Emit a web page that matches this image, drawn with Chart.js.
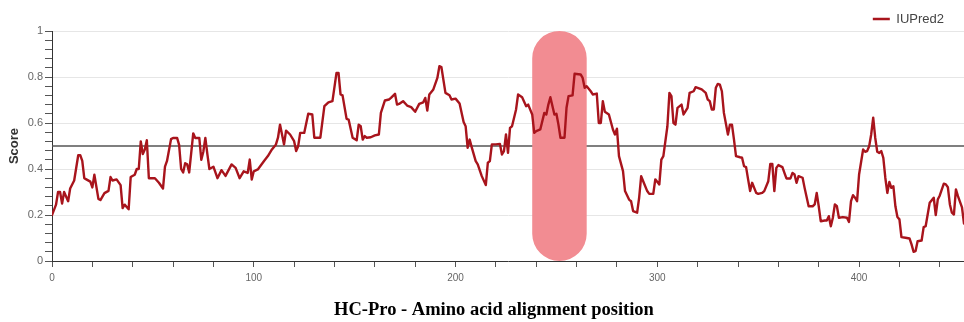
<!DOCTYPE html>
<html>
<head>
<meta charset="utf-8">
<title>HC-Pro IUPred2</title>
<script src="https://cdn.jsdelivr.net/npm/chart.js@4.4.1/dist/chart.umd.min.js"></script>
<style>
  body { margin: 0; background: #fff; }
  #wrap { width: 964px; height: 322px; }
</style>
</head>
<body>
<div id="wrap"><canvas id="disorderChart" width="964" height="322"></canvas></div>
<script>
// Alignment positions and IUPred2 scores
var positions = [
  0, 2, 3, 4, 5, 6, 8, 9, 11, 13, 14, 15, 16, 17, 19, 20, 21, 23, 24, 26, 28, 29, 30, 32, 34, 35, 36, 38, 39,
  41, 42, 43, 44, 45, 46, 47, 48, 49, 51, 53, 55, 56, 57, 59, 60, 62, 63, 64, 65, 66, 67, 68, 70, 71, 73, 74,
  75, 76, 77, 78, 80, 82, 84, 86, 89, 91, 93, 95, 97, 98, 99, 100, 102, 105, 107, 109, 111, 112, 113, 114,
  115, 116, 118, 120, 121, 122, 123, 125, 127, 129, 130, 133, 135, 137, 139, 141, 142, 143, 144, 146, 147,
  149, 151, 152, 153, 154, 155, 156, 158, 160, 162, 163, 165, 167, 168, 170, 171, 172, 174, 176, 178, 180,
  182, 184, 185, 186, 187, 189, 191, 192, 193, 195, 197, 198, 200, 202, 204, 205, 206, 207, 208, 210, 211,
  213, 215, 216, 217, 218, 220, 222, 223, 224, 225, 226, 227, 228, 230, 231, 233, 235, 236, 238, 239, 240,
  242, 244, 245, 246, 247, 249, 250, 251, 252, 254, 255, 256, 258, 259, 262, 263, 264, 265, 267, 268, 270,
  271, 272, 273, 274, 276, 278, 279, 280, 281, 283, 284, 286, 287, 288, 290, 291, 292, 293, 295, 296, 298,
  299, 301, 302, 303, 305, 306, 307, 308, 309, 310, 312, 313, 315, 316, 318, 319, 320, 322, 324, 325, 326,
  327, 328, 329, 330, 331, 332, 333, 335, 336, 337, 338, 339, 341, 342, 343, 344, 345, 346, 347, 349, 350,
  352, 353, 355, 356, 357, 358, 359, 360, 362, 363, 364, 366, 367, 368, 369, 370, 372, 373, 375, 377, 378,
  379, 380, 381, 383, 384, 385, 386, 387, 388, 389, 390, 392, 394, 395, 396, 397, 398, 399, 400, 402, 403,
  404, 405, 406, 407, 408, 409, 410, 411, 412, 413, 414, 415, 416, 417, 418, 419, 420, 421, 423, 425, 426,
  427, 428, 429, 431, 432, 433, 435, 436, 437, 438, 439, 440, 442, 443, 444, 445, 446, 447, 448, 449, 451, 452
];
var scores = [
  0.20, 0.245, 0.30, 0.30, 0.25, 0.30, 0.26, 0.315, 0.35, 0.46, 0.46, 0.435, 0.36, 0.355, 0.345, 0.32, 0.375,
  0.27, 0.265, 0.295, 0.305, 0.365, 0.35, 0.355, 0.33, 0.23, 0.245, 0.225, 0.365,
  0.375, 0.40, 0.40, 0.52, 0.465, 0.485, 0.525, 0.36, 0.36, 0.36, 0.34, 0.315, 0.41, 0.435, 0.53, 0.535, 0.535,
  0.505, 0.40, 0.385, 0.425, 0.42, 0.385, 0.555, 0.535, 0.535, 0.44,
  0.475, 0.535, 0.465, 0.40, 0.41, 0.36, 0.395, 0.37, 0.42, 0.405, 0.36, 0.39, 0.383, 0.441, 0.354, 0.39, 0.398,
  0.434, 0.456, 0.485, 0.507, 0.536, 0.593, 0.55,
  0.507, 0.567, 0.55, 0.521, 0.478, 0.499, 0.557, 0.557, 0.64, 0.637, 0.536, 0.536, 0.673, 0.69, 0.695, 0.818,
  0.818, 0.724, 0.72, 0.618, 0.615,
  0.536, 0.525, 0.593, 0.586, 0.528, 0.543, 0.536, 0.538, 0.546, 0.55, 0.644, 0.698, 0.702, 0.709, 0.727, 0.68,
  0.683, 0.695, 0.676, 0.669, 0.649,
  0.683, 0.69, 0.709, 0.654, 0.724, 0.746, 0.796, 0.847, 0.843, 0.731, 0.721, 0.702, 0.706, 0.685, 0.604, 0.586,
  0.492, 0.528, 0.495, 0.434, 0.42,
  0.369, 0.33, 0.427, 0.434, 0.507, 0.507, 0.509, 0.463, 0.478, 0.55, 0.47, 0.579, 0.586, 0.659, 0.724, 0.712,
  0.673, 0.68, 0.637, 0.557, 0.565,
  0.572, 0.644, 0.637, 0.68, 0.712, 0.637, 0.64, 0.593, 0.536, 0.536, 0.666, 0.717, 0.72, 0.814, 0.811, 0.796,
  0.753, 0.76, 0.738, 0.724, 0.728,
  0.60, 0.60, 0.695, 0.649, 0.637, 0.572, 0.55, 0.575, 0.456, 0.391, 0.304, 0.267, 0.26, 0.217, 0.21, 0.275,
  0.369, 0.347, 0.304, 0.292, 0.292,
  0.355, 0.333, 0.441, 0.456, 0.586, 0.731, 0.717, 0.60, 0.593, 0.666, 0.68, 0.637, 0.666, 0.731, 0.738, 0.756,
  0.753, 0.746, 0.731, 0.702, 0.695,
  0.659, 0.659, 0.753, 0.77, 0.767, 0.738, 0.644, 0.55, 0.593, 0.593, 0.528, 0.456, 0.451, 0.449, 0.412, 0.408,
  0.355, 0.304, 0.34, 0.296, 0.292,
  0.296, 0.304, 0.347, 0.422, 0.422, 0.304, 0.405, 0.417, 0.408, 0.383, 0.359, 0.359, 0.383, 0.376, 0.34, 0.369,
  0.362, 0.318, 0.238, 0.238, 0.246,
  0.296, 0.238, 0.173, 0.176, 0.176, 0.195, 0.151, 0.188, 0.246, 0.238, 0.188, 0.191, 0.188, 0.17, 0.26, 0.286,
  0.275, 0.26, 0.376, 0.485, 0.475,
  0.478, 0.499, 0.55, 0.623, 0.536, 0.475, 0.47, 0.478, 0.449, 0.362, 0.296, 0.344, 0.318, 0.325, 0.238, 0.191,
  0.181, 0.104, 0.101, 0.098, 0.072,
  0.04, 0.043, 0.086, 0.089, 0.147, 0.151, 0.253, 0.264, 0.275, 0.20, 0.267, 0.285, 0.336, 0.333, 0.321, 0.246,
  0.21, 0.202, 0.311, 0.282, 0.233, 0.163
];

// Disorder cut-off and the highlighted stretch of the alignment
var threshold = 0.5;
var highlight = [238, 265];

var xLabelEvery = 100;
var axisTitle = 'HC-Pro - Amino acid alignment position';

var points = positions.map(function (p, i) {
  return { x: p, y: scores[i] };
});

function isMajorY(v) {
  return Math.abs(v * 5 - Math.round(v * 5)) < 1e-6;
}

// Threshold line, highlight pill, legend nudge and bottom title
var extrasPlugin = {
  id: 'extras',
  afterLayout: function (chart) {
    var lg = chart.legend;
    lg.top += 4.5; lg.bottom += 4.5;
    lg.left -= 12; lg.right -= 12;
  },
  beforeDatasetsDraw: function (chart) {
    var ctx = chart.ctx;
    var area = chart.chartArea;
    var xs = chart.scales.x, ys = chart.scales.y;

    var ty = ys.getPixelForValue(threshold);
    ctx.save();
    ctx.strokeStyle = '#555';
    ctx.lineWidth = 1.5;
    ctx.beginPath();
    ctx.moveTo(area.left, ty);
    ctx.lineTo(area.right, ty);
    ctx.stroke();

    var x1 = xs.getPixelForValue(highlight[0]);
    var x2 = xs.getPixelForValue(highlight[1]);
    var top = ys.getPixelForValue(1);
    var bottom = ys.getPixelForValue(0);
    var r = (x2 - x1) / 2;
    var cx = x1 + r;
    ctx.fillStyle = '#f28c92';
    ctx.beginPath();
    ctx.arc(cx, top + r, r, Math.PI, 0);
    ctx.lineTo(x2, bottom - r);
    ctx.arc(cx, bottom - r, r, 0, Math.PI);
    ctx.closePath();
    ctx.fill();
    ctx.restore();
  },
  afterDraw: function (chart) {
    var ctx = chart.ctx;
    ctx.save();
    ctx.font = 'bold 18.5px "Liberation Serif", "Times New Roman", serif';
    ctx.fillStyle = '#000';
    ctx.textAlign = 'center';
    ctx.textBaseline = 'middle';
    ctx.fillText(axisTitle, 494, 310);
    ctx.restore();
  }
};

var ctxLine = document.getElementById('disorderChart').getContext('2d');

var disorderChart = new Chart(ctxLine, {
  type: 'line',
  data: {
    datasets: [{
      label: 'IUPred2',
      data: points,
      borderColor: '#a8141c',
      backgroundColor: '#a8141c',
      borderWidth: 2.4,
      borderJoinStyle: 'round',
      borderCapStyle: 'round',
      pointRadius: 0,
      pointHoverRadius: 0,
      tension: 0,
      fill: false
    }]
  },
  options: {
    responsive: false,
    animation: false,
    layout: { padding: { top: 0, right: 0, bottom: 39, left: 0 } },
    plugins: {
      tooltip: { enabled: false },
      legend: {
        position: 'top',
        align: 'end',
        labels: {
          usePointStyle: true,
          pointStyle: 'line',
          pointStyleWidth: 17,
          padding: 8,
          color: '#444',
          font: { family: '"Liberation Sans", Arial, sans-serif', size: 13 }
        }
      }
    },
    scales: {
      x: {
        type: 'linear',
        min: 0,
        max: 452,
        afterFit: function (scale) { scale.height = 22; },
        grid: { color: 'transparent', tickColor: '#555', tickLength: 6 },
        border: { color: '#333', width: 1 },
        ticks: {
          stepSize: 20,
          includeBounds: false,
          autoSkip: false,
          maxRotation: 0,
          padding: 5,
          color: '#666',
          font: { family: '"Liberation Sans", Arial, sans-serif', size: 10 },
          callback: function (v) { return v % xLabelEvery === 0 ? v : ''; }
        }
      },
      y: {
        min: 0,
        max: 1,
        afterFit: function (scale) { scale.width = 52; },
        grid: {
          color: function (c) {
            return (c.tick && isMajorY(c.tick.value) && c.tick.value > 0) ? '#e6e6e6' : 'transparent';
          },
          tickColor: '#555',
          tickLength: 7
        },
        border: { color: '#333', width: 1 },
        title: {
          display: true,
          text: 'Score',
          color: '#333',
          font: { family: '"Liberation Sans", Arial, sans-serif', size: 13, weight: 'bold' },
          padding: { top: 7, bottom: 0 }
        },
        ticks: {
          stepSize: 0.04,
          autoSkip: false,
          padding: 2,
          color: '#666',
          font: { family: '"Liberation Sans", Arial, sans-serif', size: 11 },
          callback: function (v) {
            if (!isMajorY(v)) return '';
            if (v === 0 || v === 1) return String(v);
            return v.toFixed(1);
          }
        }
      }
    }
  },
  plugins: [extrasPlugin]
});
</script>
</body>
</html>
